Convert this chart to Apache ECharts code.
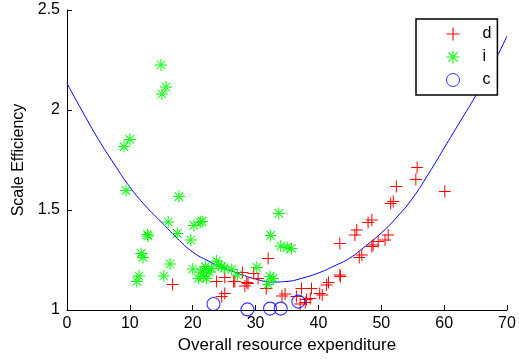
<!DOCTYPE html>
<html>
<head>
<meta charset="utf-8">
<script src="https://cdn.jsdelivr.net/npm/echarts@6/dist/echarts.min.js"></script>
<style>html,body{margin:0;padding:0;background:#fff}#c{width:519px;height:362px}</style>
</head>
<body>
<div id="c"></div>
<script>
// Series "d" (red plus)
var dX = [16.8,23.8,25.1,26.5,26.7,27.9,28.6,29.7,30.4,28.3,25.1,24.6,31.7,32.0,34.2,34.7,37.3,38.9,37.9,38.1,38.7,37.1,36.5,40.2,40.6,41.3,41.6,43.4,43.5,43.4,45.8,46.1,46.5,46.9,47.9,48.5,48.5,48.7,49.5,50.6,51.1,51.5,51.9,52.4,55.5,55.7,60.1,28.8];
var dY = [1.128,1.142,1.163,1.142,1.142,1.187,1.137,1.183,1.158,1.12,1.083,1.067,1.108,1.258,1.07,1.08,1.108,1.108,1.038,1.053,1.058,1.03,1.067,1.083,1.075,1.125,1.137,1.175,1.167,1.333,1.375,1.40,1.263,1.275,1.437,1.45,1.317,1.325,1.342,1.35,1.375,1.533,1.542,1.617,1.653,1.713,1.592,1.133];
// Series "i" (green star)
var iX = [14.95,15.75,15.1,10.0,9.07,9.39,17.8,16.1,20.2,21.5,21.2,17.55,12.8,12.9,19.7,11.8,12.1,16.4,11.45,11.1,15.4,20.0,21.2,22.0,21.7,20.9,22.2,23.0,23.8,24.1,24.6,26.2,27.1,30.2,32.3,32.8,32.0,33.7,32.4,34.0,35.0,35.7,22.6,21.8,25.0];
var iY = [2.225,2.115,2.08,1.853,1.817,1.597,1.567,1.44,1.423,1.443,1.44,1.383,1.377,1.37,1.35,1.283,1.263,1.23,1.17,1.143,1.17,1.205,1.19,1.217,1.167,1.158,1.158,1.208,1.245,1.225,1.217,1.203,1.175,1.213,1.167,1.158,1.128,1.483,1.373,1.32,1.313,1.308,1.19,1.20,1.21];
// Series "c" (blue circle)
var cX = [23.3,28.7,32.3,34.0,36.8];
var cY = [1.03,1.003,1.007,1.007,1.042];
// Fitted curve
var fitX = [0,2.5,5,7.5,10,12.5,15,17.5,20,22.5,25,27.5,30,32.5,35,37.5,40,42.5,45,47.5,50,52.5,55,57.5,60,62.5,65,67.5,70];
var fitY = [2.133,1.99,1.853,1.73,1.615,1.52,1.44,1.36,1.29,1.245,1.21,1.18,1.155,1.14,1.143,1.16,1.185,1.22,1.26,1.32,1.385,1.465,1.56,1.68,1.81,1.94,2.07,2.21,2.37];

var xTicks = [0,10,20,30,40,50,60,70];
var yTicks = [1,1.5,2,2.5];

function zip(a,b){return a.map(function(v,k){return [v,b[k]];});}

var plusPath = 'path://M-0.5,-6h1v12h-1zM-6,-0.5h12v1h-12z';
var starPath = 'path://M-0.5,-6h1v12h-1zM-6,-0.5h12v1h-12zM-4.6,-3.9L3.9,4.6L4.6,3.9L-3.9,-4.6zM4.6,-3.9L-3.9,4.6L-4.6,3.9L3.9,-4.6z';

var font = 'Liberation Sans, Arial, Helvetica, sans-serif';
var chart = echarts.init(document.getElementById('c'), null, {renderer:'canvas'});
chart.setOption({
  animation:false,
  backgroundColor:'#fff',
  grid:{left:67, top:10, right:12, bottom:52},
  legend:{
    data:[{name:'d'},{name:'i'},{name:'c', itemStyle:{borderWidth:1}}],
    orient:'vertical', left:416, top:19,
    backgroundColor:'#fff',
    borderColor:'#000', borderWidth:1.5, borderRadius:0,
    padding:[7,6,7,30],
    itemWidth:13, itemHeight:13, itemGap:7,
    textStyle:{fontFamily:font, fontSize:16, color:'#000', padding:[0,0,0,18]}
  },
  xAxis:{
    type:'value', min:0, max:70, interval:10,
    name:'Overall resource expenditure', nameLocation:'middle', nameGap:26,
    nameTextStyle:{fontFamily:font, fontSize:17, color:'#000'},
    axisLine:{lineStyle:{color:'#000', width:1}},
    axisTick:{inside:true, length:5, lineStyle:{color:'#000'}},
    axisLabel:{fontFamily:font, fontSize:16, color:'#000', margin:6},
    splitLine:{show:false}
  },
  yAxis:{
    type:'value', min:1, max:2.5, interval:0.5,
    name:'Scale Efficiency', nameLocation:'middle', nameGap:40,
    nameTextStyle:{fontFamily:font, fontSize:16, color:'#000'},
    axisLine:{show:true, lineStyle:{color:'#000', width:1}},
    axisTick:{show:true, inside:true, length:5, lineStyle:{color:'#000'}},
    axisLabel:{fontFamily:font, fontSize:16, color:'#000', margin:7},
    splitLine:{show:false}
  },
  series:[
    {name:'d', type:'scatter', symbol:plusPath, symbolSize:12, data:zip(dX,dY), itemStyle:{color:'#ff0000', opacity:1}},
    {name:'i', type:'scatter', symbol:starPath, symbolSize:12, data:zip(iX,iY), itemStyle:{color:'#00ff00', opacity:1}},
    {name:'c', type:'scatter', symbol:'circle', symbolSize:13, data:zip(cX,cY), itemStyle:{color:'rgba(0,0,0,0)', borderColor:'#0000ff', borderWidth:1.1}},
    {name:'fit', type:'line', smooth:true, showSymbol:false, symbol:'none', data:zip(fitX,fitY), lineStyle:{color:'#0000ff', width:1}, z:1}
  ]
});
</script>
</body>
</html>
